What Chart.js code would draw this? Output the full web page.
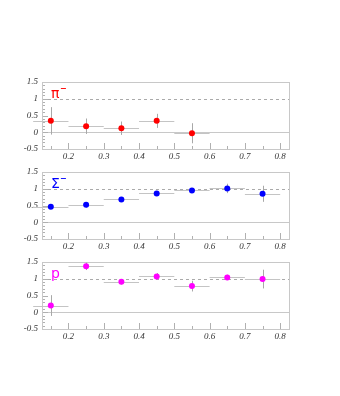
<!DOCTYPE html>
<html>
<head>
<meta charset="utf-8">
<script src="https://cdn.jsdelivr.net/npm/chart.js@4/dist/chart.umd.min.js"></script>
<style>
  body { margin: 0; background: #fff; }
  #wrap { position: relative; width: 340px; height: 396px; }
  .pane { position: absolute; left: 0; width: 340px; height: 95px; }
  canvas { display: block; }
</style>
</head>
<body>
<div id="wrap">
  <div class="pane" style="top:72px"><canvas id="c1"></canvas></div>
  <div class="pane" style="top:162px"><canvas id="c2"></canvas></div>
  <div class="pane" style="top:252px"><canvas id="c3"></canvas></div>
</div>
<script>
// bin centres and half widths
const binX = [0.15, 0.25, 0.35, 0.45, 0.55, 0.65, 0.75];
const binHalf = 0.05;
const xTicks = [0.2, 0.3, 0.4, 0.5, 0.6, 0.7, 0.8];
const yTicks = [-0.5, 0, 0.5, 1, 1.5];

// pi- ratio
const piVals = [0.34, 0.18, 0.12, 0.34, -0.03];
const piErr  = [0.41, 0.23, 0.2, 0.21, 0.3];
// Sigma- ratio
const sigVals = [0.46, 0.52, 0.68, 0.86, 0.95, 1.01, 0.85];
const sigErr  = [0.06, 0.08, 0.05, 0.05, 0.05, 0.14, 0.24];
// proton ratio
const pVals = [0.2, 1.37, 0.91, 1.07, 0.78, 1.04, 0.99];
const pErr  = [0.31, 0.11, 0.08, 0.1, 0.16, 0.08, 0.28];

// draws frame, ROOT style ticks, reference lines and error bars
const rootStyle = {
  id: 'rootStyle',
  beforeDatasetsDraw(chart, args, opts) {
    const ctx = chart.ctx, a = chart.chartArea;
    const xs = chart.scales.x, ys = chart.scales.y;
    ctx.save();
    // y = 0 line
    ctx.strokeStyle = '#c8c8c8';
    ctx.lineWidth = 1;
    let y0 = Math.round(ys.getPixelForValue(0)) + 0.5;
    ctx.beginPath(); ctx.moveTo(a.left, y0); ctx.lineTo(a.right, y0); ctx.stroke();
    // y = 1 dashed
    ctx.strokeStyle = '#aaaaaa';
    ctx.setLineDash([3, 3]);
    let y1 = Math.round(ys.getPixelForValue(1)) + 0.5;
    ctx.beginPath(); ctx.moveTo(a.left, y1); ctx.lineTo(a.right, y1); ctx.stroke();
    ctx.setLineDash([]);
    // ticks
    ctx.strokeStyle = '#b0b0b0';
    ctx.beginPath();
    for (let i = 0; i <= 20; i++) {
      const v = -0.5 + i * 0.1;
      const py = Math.round(ys.getPixelForValue(v)) + 0.5;
      const len = (i % 5 === 0) ? 6 : 3;
      ctx.moveTo(a.left, py); ctx.lineTo(a.left + len, py);
    }
    for (let i = 0; i <= 14; i++) {
      const v = 0.15 + i * 0.05;
      if (v > 0.826) break;
      const px = Math.round(xs.getPixelForValue(v)) + 0.5;
      const len = (i % 2 === 1) ? 6 : 3;
      ctx.moveTo(px, a.bottom); ctx.lineTo(px, a.bottom - len);
    }
    ctx.stroke();
    // frame
    ctx.strokeStyle = '#c8c8c8';
    ctx.strokeRect(a.left + 0.5, a.top + 0.5, a.right - a.left, a.bottom - a.top);
    // error bars
    const ds = chart.data.datasets[0];
    const errs = opts.errs;
    ctx.lineWidth = 1;
    ds.data.forEach((d, i) => {
      const cx = Math.round(xs.getPixelForValue(d.x)) + 0.5;
      const cy = Math.round(ys.getPixelForValue(d.y)) + 0.5;
      ctx.strokeStyle = '#c4c4c4';
      ctx.beginPath();
      ctx.moveTo(xs.getPixelForValue(d.x - binHalf), cy);
      ctx.lineTo(xs.getPixelForValue(d.x + binHalf), cy);
      ctx.stroke();
      ctx.strokeStyle = '#a8a8a8';
      ctx.beginPath();
      ctx.moveTo(cx, ys.getPixelForValue(d.y + errs[i]));
      ctx.lineTo(cx, ys.getPixelForValue(d.y - errs[i]));
      ctx.stroke();
    });
    // label
    ctx.fillStyle = opts.color;
    ctx.font = '14px "DejaVu Sans"';
    ctx.textBaseline = 'alphabetic';
    ctx.fillText(opts.label, a.left + 9, a.top + 16);
    if (opts.minus) {
      ctx.font = 'bold 8px "DejaVu Sans"';
      ctx.fillText('\u2212', a.left + 18, a.top + 9);
    }
    ctx.restore();
  }
};

function makePanel(id, vals, errs, color, label, minus) {
  const pts = vals.map((v, i) => ({ x: binX[i], y: v }));
  return new Chart(document.getElementById(id), {
    type: 'scatter',
    data: { datasets: [{ data: pts, backgroundColor: color, borderColor: color,
      pointRadius: 3, pointHoverRadius: 3, borderWidth: 0 }] },
    options: {
      responsive: false,
      animation: false,
      layout: { padding: { top: 10, right: 51, left: 0, bottom: 0 } },
      plugins: { legend: { display: false }, tooltip: { enabled: false },
        rootStyle: { errs: errs, color: color, label: label, minus: minus } },
      scales: {
        x: {
          type: 'linear', min: 0.125, max: 0.825,
          afterBuildTicks: s => { s.ticks = xTicks.map(v => ({ value: v })); },
          afterFit: s => { s.height = 18; },
          grid: { display: false, drawTicks: false }, border: { display: false },
          ticks: { color: '#333', padding: 2, font: { family: 'Liberation Serif', style: 'italic', size: 9 },
            callback: v => String(v) }
        },
        y: {
          min: -0.5, max: 1.5,
          afterBuildTicks: s => { s.ticks = yTicks.map(v => ({ value: v })); },
          afterFit: s => { s.width = 42; },
          grid: { display: false, drawTicks: false }, border: { display: false },
          ticks: { color: '#333', padding: 4, font: { family: 'Liberation Serif', style: 'italic', size: 9 },
            callback: v => String(v) }
        }
      }
    },
    plugins: [rootStyle]
  });
}

for (const c of ['c1', 'c2', 'c3']) {
  const el = document.getElementById(c);
  el.width = 340; el.height = 95;
}
makePanel('c1', piVals, piErr, '#ff0000', '\u03c0', true);
makePanel('c2', sigVals, sigErr, '#0000ff', '\u03a3', true);
makePanel('c3', pVals, pErr, '#ff00ff', 'p', false);
</script>
</body>
</html>
